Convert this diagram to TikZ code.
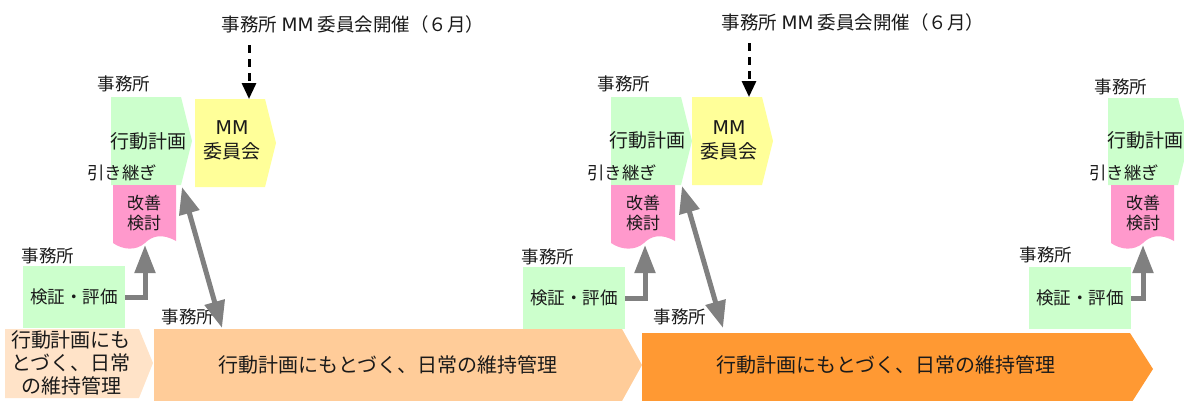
\documentclass[tikz,border=0pt]{standalone}
\usepackage{fontspec}
\setmainfont{Noto Sans CJK JP}
\newfontfamily\latinwide{DejaVu Sans}
\usetikzlibrary{arrows.meta}
\definecolor{cgreen}{HTML}{CCFFCC}
\definecolor{cyellow}{HTML}{FFFF99}
\definecolor{cpink}{HTML}{FF99CC}
\definecolor{clight}{HTML}{FFE3C8}
\definecolor{cpeach}{HTML}{FFCC99}
\definecolor{corange}{HTML}{FF9933}
\definecolor{carrow}{HTML}{808080}
\definecolor{ctext}{HTML}{1A1A1A}
\newcommand{\mmw}{{\latinwide MM}}
\begin{document}
\begin{tikzpicture}[x=1pt,y=-1pt,
  every node/.style={inner sep=0pt,outer sep=0pt,text=ctext},
  lbl/.style={font=\fontsize{17.5}{19}\selectfont},
  plantext/.style={font=\fontsize{19}{22}\selectfont},
  hikitext/.style={font=\fontsize{17.5}{20}\selectfont},
  toptext/.style={font=\fontsize{18.5}{20}\selectfont},
  pinktext/.style={font=\fontsize{17}{19.5}\selectfont,align=center},
  mmtext/.style={font=\fontsize{19}{24}\selectfont,align=center},
  evalbox/.style={fill=cgreen,minimum width=102pt,minimum height=62pt,font=\fontsize{17.5}{20}\selectfont},
  bartext/.style={font=\fontsize{20}{23}\selectfont,align=center},
  grayarrow/.style={draw=carrow,line width=5pt,-{Triangle[length=28pt,width=20pt]}},
  grayboth/.style={draw=carrow,line width=5pt,{Triangle[length=27pt,width=20pt]}-{Triangle[length=27pt,width=20pt]}},
  dasharrow/.style={draw=black,line width=3pt,dash pattern=on 8pt off 6pt,-{Triangle[length=16pt,width=14pt]}}
]
\useasboundingbox (0,0) rectangle (1184,400);

% ---------- bottom bar ----------
\fill[clight] (5,329) -- (139,329) -- (153,363) -- (139,398) -- (5,398) -- cycle;
\fill[cpeach] (154,329) -- (622,329) -- (642,365) -- (622,401) -- (154,401) -- cycle;
\fill[corange] (642,333) -- (1130,333) -- (1153,369) -- (1130,405) -- (642,405) -- cycle;
\node[bartext] (b0) at (71,363) {行動計画にも\\とづく、日常\\の維持管理};
\node[bartext] (b1) at (388,365) {行動計画にもとづく、日常の維持管理};
\node[bartext] (b2) at (886,365) {行動計画にもとづく、日常の維持管理};
\coordinate (b1top) at (222,328);
\coordinate (b2top) at (723,328);

% ---------- group 1 ----------
\fill[cgreen] (111,97) -- (181,97) -- (192,141) -- (181,185) -- (111,185) -- cycle;
\fill[cyellow] (195,99) -- (265,99) -- (276,143) -- (265,187) -- (195,187) -- cycle;
\fill[cpink] (113,185) -- (176,185) -- (176,241) .. controls (162,233) and (152,236) .. (145,243)
  .. controls (136,251) and (123,250) .. (113,243) -- cycle;
\node[lbl] (o1a) at (124,84) {事務所};
\node[plantext] (pl1) at (148,141) {行動計画};
\node[hikitext] (hk1) at (122,173) {引き継ぎ};
\node[mmtext] (mm1) at (232,140) {\mmw\\委員会};
\node[pinktext] (kz1) at (144,213) {改善\\検討};
\node[lbl] (o1b) at (48,256) {事務所};
\node[evalbox] (ev1) at (74,297) {検証・評価};
\node[lbl] (o1c) at (188,317) {事務所};
\node[toptext] (top1) at (353,24) {事務所 \mmw\ 委員会開催（６月）};
\coordinate (kz1b) at (145,245);
\coordinate (pl1c) at (182,187);
\coordinate (ds1) at (249,45);
\coordinate (mm1t) at (249,99);
\draw[grayarrow] (ev1.east) -| (kz1b);
\draw[grayboth] (pl1c) -- (b1top);
\draw[dasharrow] (ds1) -- (mm1t);

% ---------- group 2 ----------
\fill[cgreen] (611,97) -- (681,97) -- (692,141) -- (681,185) -- (611,185) -- cycle;
\fill[cyellow] (692,97) -- (762,97) -- (773,141) -- (762,185) -- (692,185) -- cycle;
\fill[cpink] (611,185) -- (675,185) -- (675,241) .. controls (661,233) and (651,236) .. (644,243)
  .. controls (635,251) and (621,250) .. (611,243) -- cycle;
\node[lbl] (o2a) at (624,84) {事務所};
\node[plantext] (pl2) at (647,140) {行動計画};
\node[hikitext] (hk2) at (622,173) {引き継ぎ};
\node[mmtext] (mm2) at (729,140) {\mmw\\委員会};
\node[pinktext] (kz2) at (643,213) {改善\\検討};
\node[lbl] (o2b) at (548,257) {事務所};
\node[evalbox] (ev2) at (574,298) {検証・評価};
\node[lbl] (o2c) at (680,317) {事務所};
\node[toptext] (top2) at (853,22) {事務所 \mmw\ 委員会開催（６月）};
\coordinate (kz2b) at (645,245);
\coordinate (pl2c) at (682,186);
\coordinate (ds2) at (749,43);
\coordinate (mm2t) at (749,97);
\draw[grayarrow] (ev2.east) -| (kz2b);
\draw[grayboth] (pl2c) -- (b2top);
\draw[dasharrow] (ds2) -- (mm2t);

% ---------- group 3 ----------
\fill[cgreen] (1108,98) -- (1178,98) -- (1189,141) -- (1178,185) -- (1108,185) -- cycle;
\fill[cpink] (1111,185) -- (1174,185) -- (1174,241) .. controls (1160,233) and (1150,236) .. (1143,243)
  .. controls (1134,251) and (1121,250) .. (1111,243) -- cycle;
\node[lbl] (o3a) at (1121,87) {事務所};
\node[plantext] (pl3) at (1145,140) {行動計画};
\node[hikitext] (hk3) at (1124,173) {引き継ぎ};
\node[pinktext] (kz3) at (1143,213) {改善\\検討};
\node[lbl] (o3b) at (1046,255) {事務所};
\node[evalbox] (ev3) at (1080,298) {検証・評価};
\coordinate (kz3b) at (1143,245);
\draw[grayarrow] (ev3.east) -| (kz3b);
\end{tikzpicture}
\end{document}
